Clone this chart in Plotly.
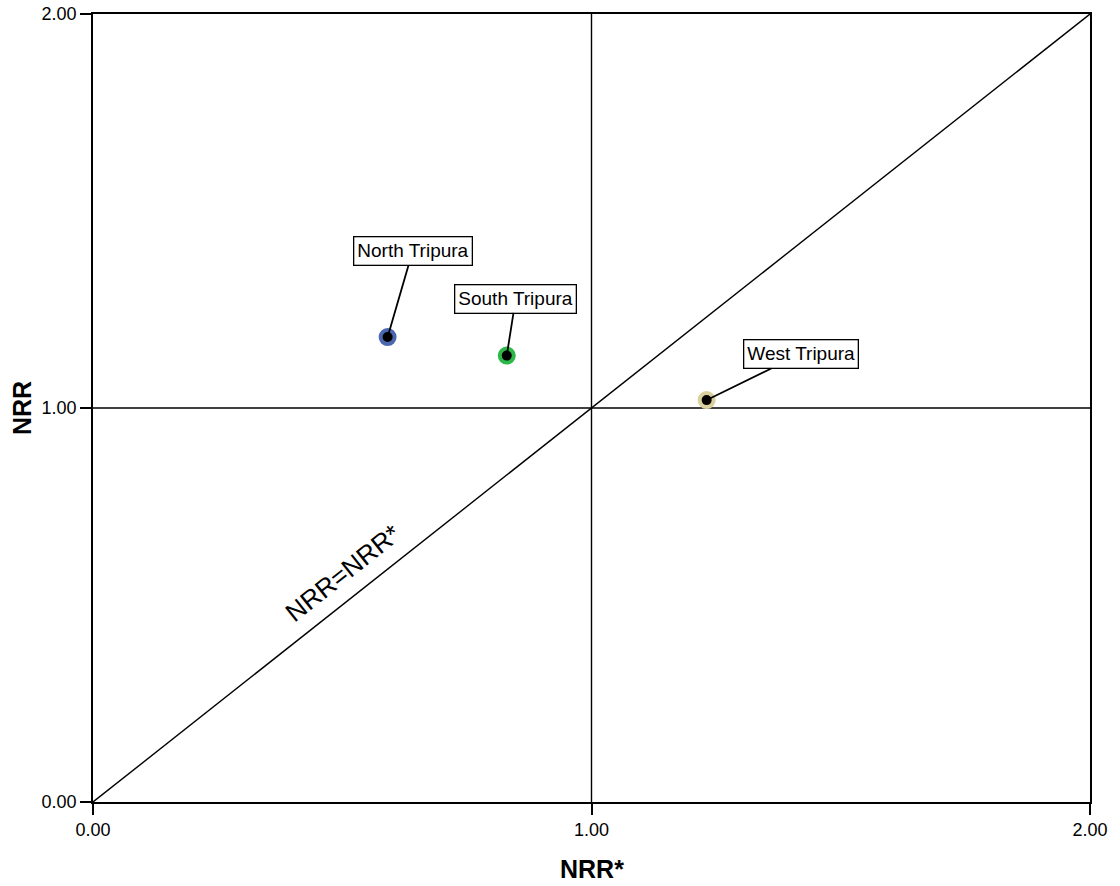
import plotly.graph_objects as go

districts = ["North Tripura", "South Tripura", "West Tripura"]
nrr_star = [0.591, 0.830, 1.231]
nrr = [1.180, 1.133, 1.020]
ring_colors = ["#4a67b0", "#2fb84a", "#d9d09e"]
label_offsets = [(25, -86), (9, -57), (94, -46)]
tick_vals = [0, 1, 2]
tick_text = ["0.00", "1.00", "2.00"]

FONT = "Arial, Liberation Sans, sans-serif"

fig = go.Figure()

# reference lines
for xs, ys in (([0, 2], [0, 2]), ([1, 1], [0, 2]), ([0, 2], [1, 1])):
    fig.add_trace(go.Scatter(x=xs, y=ys, mode="lines",
                             line=dict(color="black", width=1.4),
                             hoverinfo="skip", showlegend=False))

fig.add_trace(go.Scatter(x=nrr_star, y=nrr, mode="markers", text=districts,
                         marker=dict(color="black", size=14,
                                     line=dict(color=ring_colors, width=4)),
                         showlegend=False))

for name, xv, yv, (ax, ay) in zip(districts, nrr_star, nrr, label_offsets):
    fig.add_annotation(x=xv, y=yv, text=name, showarrow=True, arrowhead=0,
                       arrowwidth=1.8, arrowcolor="black", ax=ax, ay=ay,
                       standoff=3,
                       font=dict(family=FONT, size=19, color="black"),
                       bgcolor="white", bordercolor="black", borderwidth=1.3, borderpad=3)

fig.add_annotation(x=0.5015, y=0.581, text="NRR=NRR*", showarrow=False, textangle=-38.5,
                   font=dict(family=FONT, size=26, color="black"))

# axis titles
fig.add_annotation(xref="paper", yref="paper", x=0.5, y=0, yshift=-67, text="<b>NRR*</b>",
                   showarrow=False, xanchor="center", yanchor="middle",
                   font=dict(family=FONT, size=25, color="black"))
fig.add_annotation(xref="paper", yref="paper", x=0, y=0.5, xshift=-71, text="<b>NRR</b>",
                   showarrow=False, textangle=-90, xanchor="center", yanchor="middle",
                   font=dict(family=FONT, size=25, color="black"))

axis_common = dict(range=[0, 2], tickvals=tick_vals, ticktext=tick_text,
                   ticks="outside", ticklen=11, tickwidth=1.5, tickcolor="black",
                   showline=True, linecolor="black", linewidth=1.5, mirror=True,
                   showgrid=False, zeroline=False, automargin=False,
                   ticklabeloverflow="allow",
                   tickfont=dict(family=FONT, size=18, color="black"))

fig.update_xaxes(**axis_common)
fig.update_yaxes(**axis_common)

fig.update_layout(width=1120, height=886, plot_bgcolor="white", paper_bgcolor="white",
                  margin=dict(l=93, r=30, t=14, b=84))

fig.write_html("out.html", config={"displayModeBar": False},
               post_script="document.body.style.margin='0';document.body.style.overflow='hidden';")
